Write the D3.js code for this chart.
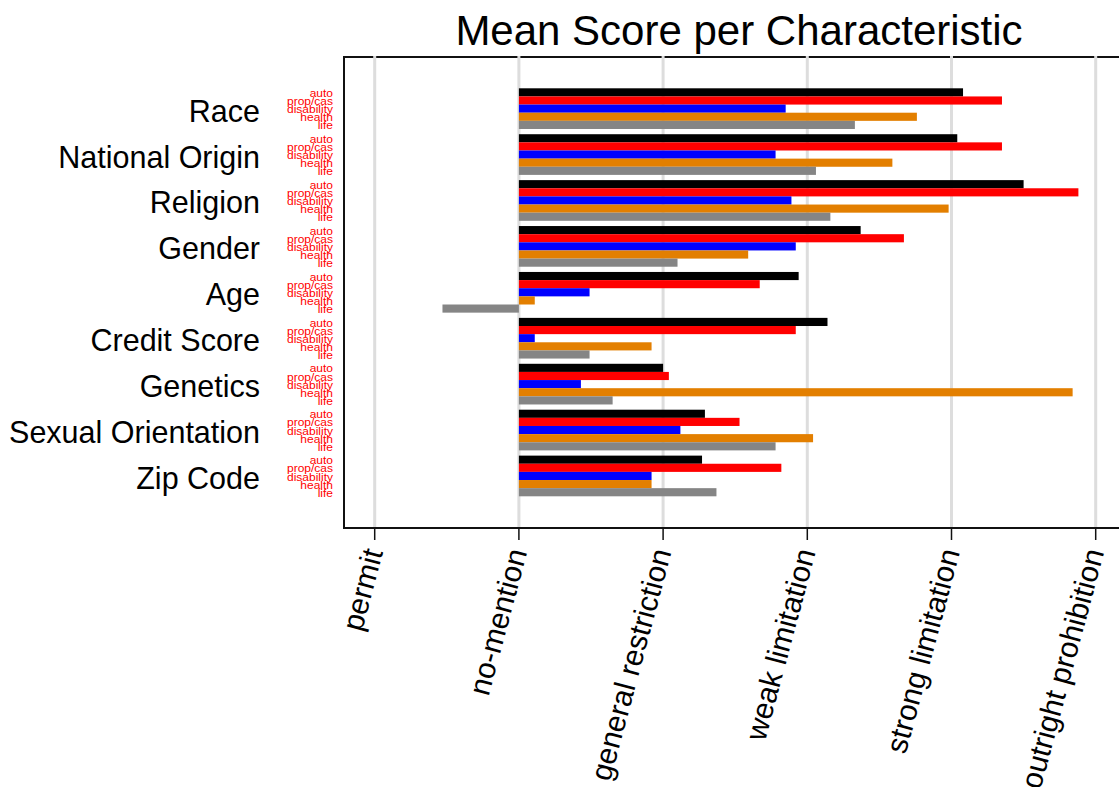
<!DOCTYPE html>
<html>
<head>
<meta charset="utf-8">
<script src="https://cdn.jsdelivr.net/npm/d3@7"></script>
<style>
body { margin: 0; background: #fff; }
text { font-family: "Liberation Sans", Arial, sans-serif; }
</style>
</head>
<body>
<div class="graph"></div>
<script>
// data
var categories = ["Race", "National Origin", "Religion", "Gender", "Age", "Credit Score", "Genetics", "Sexual Orientation", "Zip Code"]
var series = ["auto", "prop/cas", "disability", "health", "life"]
var colors = ["#000000", "#ff0000", "#0000ff", "#e37f00", "#858585"]
var tickLabels = ["permit", "no-mention", "general restriction", "weak limitation", "strong limitation", "outright prohibition"]
var tickValues = [-1, 0, 1, 2, 3, 4]

var auto       = [3.08, 3.04, 3.50, 2.37, 1.94, 2.14, 1.00, 1.29, 1.27]
var propcas    = [3.35, 3.35, 3.88, 2.67, 1.67, 1.92, 1.04, 1.53, 1.82]
var disability = [1.85, 1.78, 1.89, 1.92, 0.49, 0.11, 0.43, 1.12, 0.92]
var health     = [2.76, 2.59, 2.98, 1.59, 0.11, 0.92, 3.84, 2.04, 0.92]
var life       = [2.33, 2.06, 2.16, 1.10, -0.53, 0.49, 0.65, 1.78, 1.37]
var values = [auto, propcas, disability, health, life]

//size
var width = 1119, height = 787
var frame = { left: 344, top: 57, bottom: 528 }

var svg = d3.select('.graph')
    .append('svg')
    .attr('width', width)
    .attr('height', height)

var x = d3.scaleLinear()
    .domain([-1, 4])
    .range([374.7, 1095.7])

var y = d3.scaleBand()
    .domain(categories)
    .range([88.3, 496.3])
    .paddingInner(0.114)
    .paddingOuter(0)

var y1 = d3.scaleBand()
    .domain(series)
    .range([0, y.bandwidth()])

// grid
svg.append('g')
    .selectAll('line')
    .data(tickValues)
    .join('line')
    .attr('x1', d => x(d))
    .attr('x2', d => x(d))
    .attr('y1', frame.top - 1)
    .attr('y2', frame.bottom)
    .style('stroke', '#dddddd')
    .style('stroke-width', 3)

// frame (no right edge, it runs off the page)
svg.append('path')
    .attr('d', `M ${width},${frame.top} L ${frame.left},${frame.top} L ${frame.left},${frame.bottom} L ${width},${frame.bottom}`)
    .style('fill', 'none')
    .style('stroke', '#111')
    .style('stroke-width', 2)

// grid over the top line, like the original
svg.append('g')
    .selectAll('line')
    .data(tickValues)
    .join('line')
    .attr('x1', d => x(d))
    .attr('x2', d => x(d))
    .attr('y1', frame.top - 1)
    .attr('y2', frame.top + 1)
    .style('stroke', '#dddddd')
    .style('stroke-width', 3)

// bars
var groups = svg.append('g')
    .selectAll('g')
    .data(categories)
    .join('g')
    .attr('transform', d => 'translate(0,' + y(d) + ')')

groups.selectAll('rect')
    .data((c, i) => series.map((s, j) => ({ s: s, v: values[j][i], color: colors[j] })))
    .join('rect')
    .attr('x', d => x(Math.min(0, d.v)))
    .attr('width', d => Math.abs(x(d.v) - x(0)))
    .attr('y', d => y1(d.s))
    .attr('height', y1.bandwidth())
    .style('fill', d => d.color)

// small series labels
groups.selectAll('text.series')
    .data(series)
    .join('text')
    .attr('class', 'series')
    .attr('transform', d => 'translate(333,' + (y1(d) + y1.bandwidth() + 0.5) + ') scale(1,0.95)')
    .attr('text-anchor', 'end')
    .style('font-size', '12px')
    .style('fill', '#ff0000')
    .text(d => d)

// category labels
groups.append('text')
    .attr('x', 260)
    .attr('y', y.bandwidth() / 2 + 13)
    .attr('text-anchor', 'end')
    .style('font-size', '30.5px')
    .style('fill', '#000')
    .text(d => d)

// x ticks
var ticks = svg.append('g')
    .selectAll('g')
    .data(tickValues)
    .join('g')

ticks.append('line')
    .attr('x1', d => x(d))
    .attr('x2', d => x(d))
    .attr('y1', frame.bottom)
    .attr('y2', frame.bottom + 12)
    .style('stroke', '#111')
    .style('stroke-width', 1.5)

ticks.append('text')
    .attr('transform', d => 'translate(' + (x(d) + 8.5) + ',' + 552 + ') rotate(-75)')
    .attr('text-anchor', 'end')
    .style('font-size', '30px')
    .style('fill', '#000')
    .text((d, i) => tickLabels[i])

// title
svg.append('text')
    .attr('x', 739)
    .attr('y', 44.5)
    .attr('text-anchor', 'middle')
    .style('font-size', '42px')
    .style('fill', '#000')
    .text('Mean Score per Characteristic')
</script>
</body>
</html>
